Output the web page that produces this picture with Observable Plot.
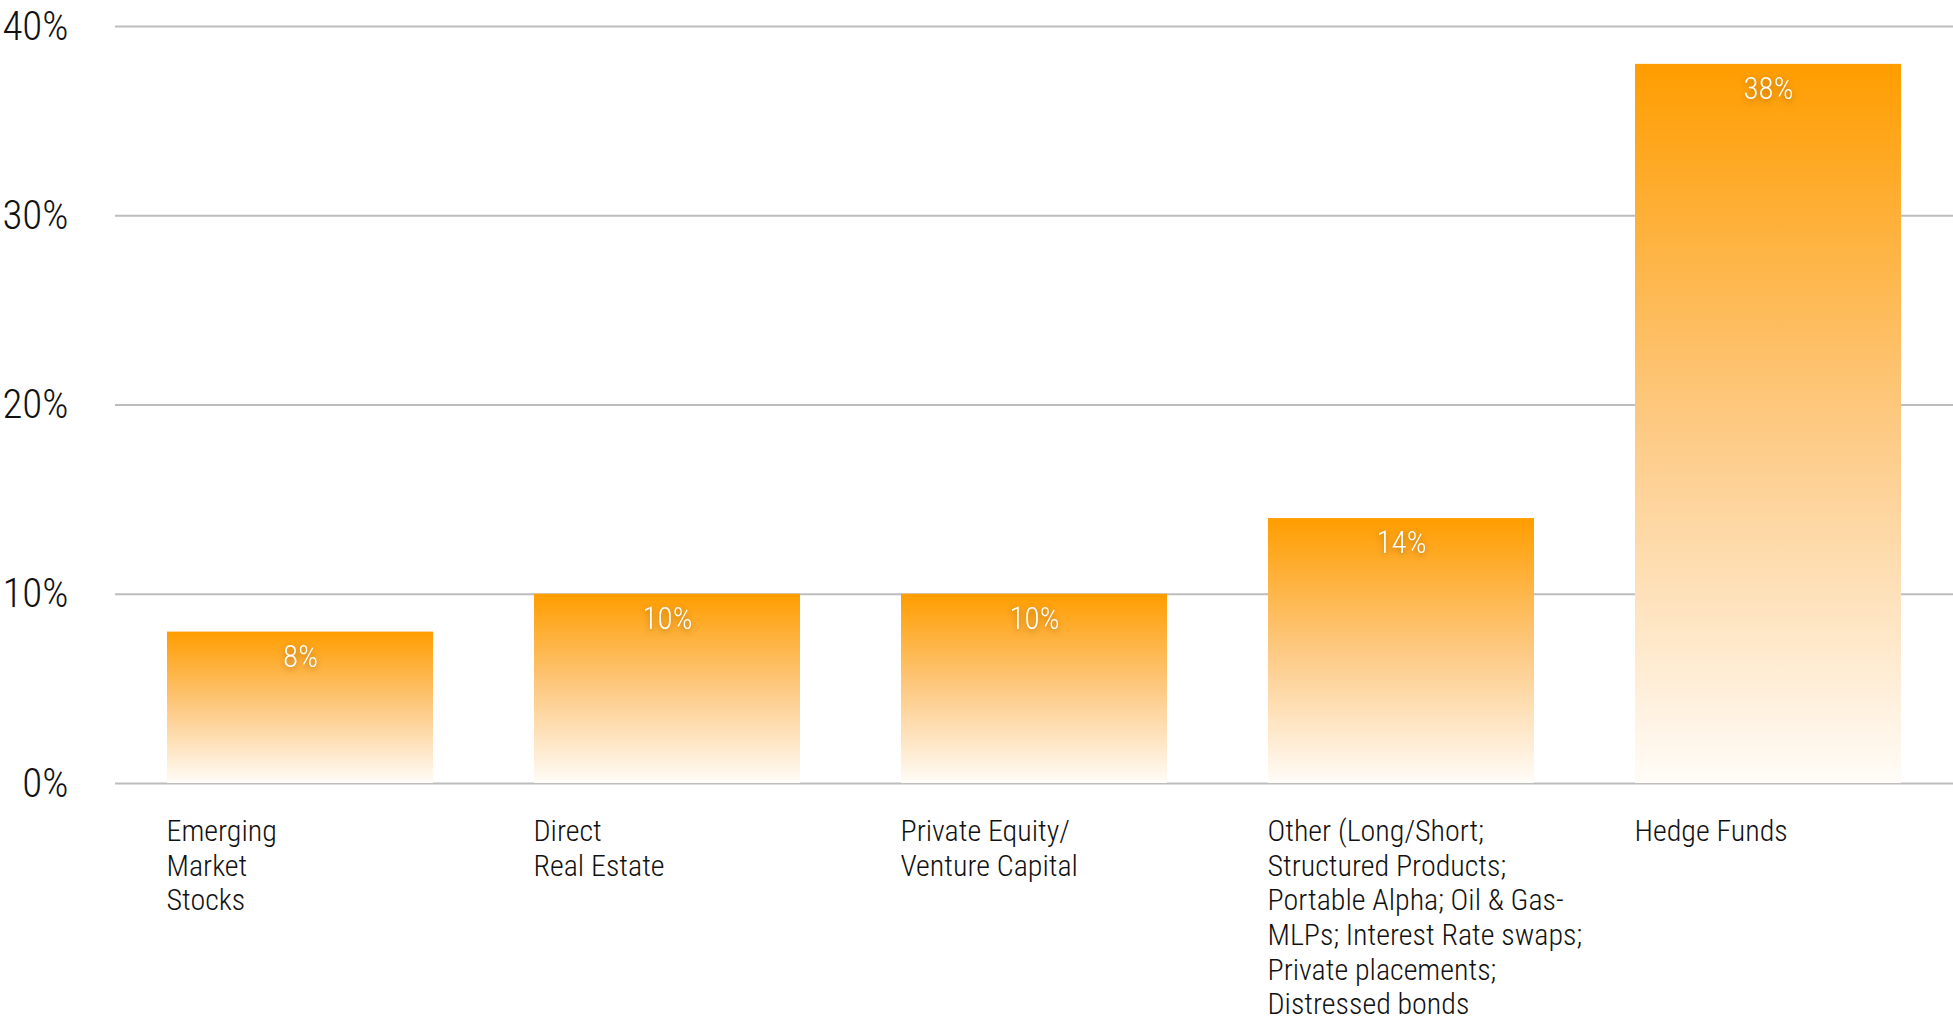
<!DOCTYPE html>
<html>
<head>
<meta charset="utf-8">
<script src="https://cdn.jsdelivr.net/npm/d3@7"></script>
<script src="https://cdn.jsdelivr.net/npm/@observablehq/plot@0.6"></script>
<style>
  html, body { margin: 0; padding: 0; background: #fff; }
  #chart svg { display: block; }
  .vlabel text { filter: drop-shadow(0px 2px 3px rgba(90,50,0,0.45)); }
</style>
</head>
<body>
<div id="chart"></div>
<script>
const categories = [
  "Emerging Market Stocks",
  "Direct Real Estate",
  "Private Equity/Venture Capital",
  "Other",
  "Hedge Funds"
];
const categoryLabels = [
  "Emerging\nMarket\nStocks",
  "Direct\nReal Estate",
  "Private Equity/\nVenture Capital",
  "Other (Long/Short;\nStructured Products;\nPortable Alpha; Oil & Gas-\nMLPs; Interest Rate swaps;\nPrivate placements;\nDistressed bonds",
  "Hedge Funds"
];
const values = [8, 10, 10, 14, 38];
const yTicks = [0, 10, 20, 30, 40];

const data = categories.map((c, i) => ({cat: c, value: values[i]}));
const labelOf = new Map(categories.map((c, i) => [c, categoryLabels[i]]));

const FONT = "'Roboto Condensed', 'Liberation Sans Narrow', 'DejaVu Sans Condensed', 'Arial Narrow', sans-serif";

const gradientDefs = () => {
  const defs = d3.create("svg:defs");
  const g = defs.append("linearGradient")
    .attr("id", "barGrad")
    .attr("x1", 0).attr("y1", 0).attr("x2", 0).attr("y2", 1);
  g.append("stop").attr("offset", "0%").attr("stop-color", "#ff9d00");
  g.append("stop").attr("offset", "50%").attr("stop-color", "#fdc982");
  g.append("stop").attr("offset", "100%").attr("stop-color", "#fffcf8");
  return defs.node();
};

const chart = Plot.plot({
  width: 1953,
  height: 1017,
  marginTop: 26,
  marginBottom: 234,
  marginLeft: 115,
  marginRight: 0,
  style: {fontFamily: FONT, fontWeight: 300, background: "#fff", color: "#111"},
  x: {domain: categories, paddingInner: 0.275, paddingOuter: 0.139},
  y: {domain: [0, 40]},
  marks: [
    gradientDefs,
    Plot.ruleY(yTicks, {stroke: "#bdbdbd", strokeWidth: 2.2}),
    Plot.barY(data, {x: "cat", y: "value", fill: "url(#barGrad)"}),
    Plot.text(data, {
      x: "cat", y: "value", text: d => d.value + "%",
      fill: "#fff", fontSize: 31, fontWeight: 300, dy: 25, lineAnchor: "middle",
      className: "vlabel"
    }),
    Plot.axisY({
      ticks: yTicks, tickFormat: d => d + "%", tickSize: 0, tickPadding: 47,
      fontSize: 41, fontWeight: 300, fill: "#111", label: null
    }),
    Plot.axisX({
      tickSize: 0, tickPadding: 33, tickFormat: d => labelOf.get(d),
      textAnchor: "start", dx: -134, fontSize: 30, fontWeight: 300, lineHeight: 1.155,
      fill: "#111", label: null
    })
  ]
});
document.getElementById("chart").appendChild(chart);
</script>
</body>
</html>
